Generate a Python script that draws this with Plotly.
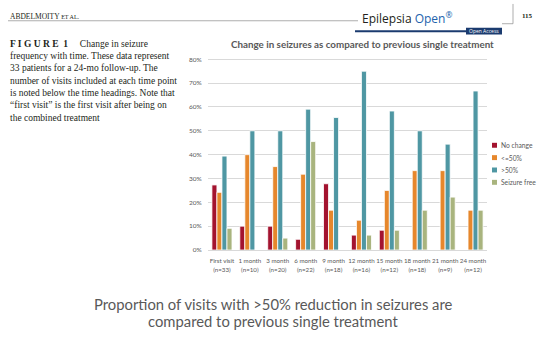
import plotly.graph_objects as go

W, H = 545, 338

categories = ["First visit<br>(n=33)", "1 month<br>(n=10)", "3 month<br>(n=20)", "6 month<br>(n=22)",
              "9 month<br>(n=18)", "12 month<br>(n=16)", "15 month<br>(n=12)", "18 month<br>(n=18)",
              "21 month<br>(n=9)", "24 month<br>(n=12)"]
series_names = ["No change", "<=50%", ">50%", "Seizure free"]
no_change = [0.273, 0.10, 0.10, 0.045, 0.278, 0.0625, 0.083, 0.0, 0.0, 0.0]
le_50 = [0.242, 0.40, 0.35, 0.318, 0.167, 0.125, 0.25, 0.333, 0.333, 0.167]
gt_50 = [0.394, 0.50, 0.50, 0.591, 0.556, 0.75, 0.583, 0.50, 0.444, 0.667]
seizure_free = [0.091, 0.0, 0.05, 0.455, 0.0, 0.0625, 0.083, 0.167, 0.222, 0.167]
series_values = [no_change, le_50, gt_50, seizure_free]
colors = ["#a3132f", "#e6872c", "#4f97a3", "#a9b47e"]
y_ticks = [0, 0.1, 0.2, 0.3, 0.4, 0.5, 0.6, 0.7, 0.8]

caption_lines = [
    "<b>F I G U R E  1</b>     Change in seizure",
    "frequency with time. These data represent",
    "33 patients for a 24-mo follow-up. The",
    "number of visits included at each time point",
    "is noted below the time headings. Note that",
    "“first visit” is the first visit after being on",
    "the combined treatment",
]
chart_title = "Change in seizures as compared to previous single treatment"
bottom_lines = ["Proportion of visits with >50% reduction in seizures are",
                "compared to previous single treatment"]


def px(x):
    return x / W


def py(y):
    return 1 - y / H


fig = go.Figure()
for name, vals, col in zip(series_names, series_values, colors):
    fig.add_trace(go.Bar(x=categories, y=vals, name=name, marker=dict(color=col, line=dict(color="white", width=0.8)),
                         showlegend=False))

# plot area geometry
x0, x1 = 208, 487
y_zero, y_80 = 252, 59
ymax = 0.81
y_top = y_zero - (y_zero - y_80) * ymax / 0.8

fig.update_layout(
    width=W, height=H, autosize=False,
    margin=dict(l=0, r=0, t=0, b=0),
    paper_bgcolor="white", plot_bgcolor="white",
    barmode="group", bargap=0.28, bargroupgap=0.0,
    font=dict(family="Lato, Open Sans, sans-serif", color="#595959"),
    xaxis=dict(domain=[px(x0), px(x1)], tickfont=dict(size=6.2, color="#595959"), showgrid=False,
               showline=False, ticks="outside", ticklen=5, tickcolor="rgba(0,0,0,0)", tickangle=0),
    yaxis=dict(domain=[py(y_zero), py(y_top)], range=[0, ymax], tickvals=y_ticks, tickformat=".0%",
               tickfont=dict(size=6.5, color="#595959"), showgrid=True, gridcolor="#d9d9d9", gridwidth=1,
               zeroline=True, zerolinecolor="#d9d9d9", zerolinewidth=1, showline=False,
               ticks="outside", ticklen=4, tickcolor="rgba(0,0,0,0)"),
)

annotations = []
shapes = []

# chart title
annotations.append(dict(x=px(362), y=py(44), xref="paper", yref="paper", text="<b>" + chart_title + "</b>",
                        showarrow=False, font=dict(size=9.8, color="#595959", family="Lato, sans-serif"),
                        xanchor="center", yanchor="middle"))

# legend (manual, compact)
leg_y = [146, 158.5, 171, 183.5]
for name, col, yy in zip(series_names, colors, leg_y):
    shapes.append(dict(type="rect", xref="paper", yref="paper", x0=px(492), x1=px(497), y0=py(yy + 2.5),
                       y1=py(yy - 2.5), fillcolor=col, line=dict(width=0)))
    annotations.append(dict(x=px(499), y=py(yy), xref="paper", yref="paper", text=name, showarrow=False,
                            xanchor="left", yanchor="middle", font=dict(size=6.7, color="#595959")))

# caption text
cap_y = [43.5, 56, 68.3, 80.7, 93.2, 105.6, 118]
for line, yy in zip(caption_lines, cap_y):
    annotations.append(dict(x=px(8), y=py(yy), xref="paper", yref="paper", text=line, showarrow=False,
                            xanchor="left", yanchor="middle",
                            font=dict(size=9.5, color="#231f20", family="Liberation Serif, serif")))

# bottom text
for line, yy in zip(bottom_lines, [307, 324]):
    annotations.append(dict(x=px(273), y=py(yy), xref="paper", yref="paper", text=line, showarrow=False,
                            xanchor="center", yanchor="middle",
                            font=dict(size=14.8, color="#595959", family="Lato, sans-serif")))

# header
annotations.append(dict(x=px(8), y=py(16), xref="paper", yref="paper",
                        text="ABDELMOITY <span style='font-size:6px'>ET AL.</span>", showarrow=False,
                        xanchor="left", yanchor="middle",
                        font=dict(size=7.5, color="#231f20", family="Liberation Serif, serif")))
annotations.append(dict(x=px(360), y=py(17), xref="paper", yref="paper",
                        text="Epilepsia <span style='color:#1d63ad'>Open<sup>®</sup></span>", showarrow=False,
                        xanchor="left", yanchor="middle",
                        font=dict(size=12, color="#231f20", family="Open Sans, sans-serif")))
annotations.append(dict(x=px(520), y=py(15), xref="paper", yref="paper", text="<b>115</b>", showarrow=False,
                        xanchor="left", yanchor="middle",
                        font=dict(size=7, color="#231f20", family="Liberation Serif, serif")))
annotations.append(dict(x=px(484), y=py(30.5), xref="paper", yref="paper", text="Open Access", showarrow=False,
                        xanchor="center", yanchor="middle",
                        font=dict(size=5, color="white", family="Open Sans, sans-serif")))
shapes += [
    dict(type="line", xref="paper", yref="paper", x0=px(8), x1=px(358), y0=py(20), y1=py(20),
         line=dict(color="#8a8a8a", width=0.7)),
    dict(type="line", xref="paper", yref="paper", x0=px(355), x1=px(468), y0=py(30.5), y1=py(30.5),
         line=dict(color="#1b3b6f", width=2)),
    dict(type="rect", xref="paper", yref="paper", x0=px(466), x1=px(502), y0=py(34), y1=py(27),
         fillcolor="#1b3b6f", line=dict(width=0)),
    dict(type="line", xref="paper", yref="paper", x0=px(513), x1=px(513), y0=py(3), y1=py(23),
         line=dict(color="#8a8a8a", width=0.7)),
    dict(type="line", xref="paper", yref="paper", x0=px(502), x1=px(513), y0=py(23), y1=py(23),
         line=dict(color="#8a8a8a", width=0.7)),
]

fig.update_layout(annotations=annotations, shapes=shapes)
fig.write_html("out.html")
